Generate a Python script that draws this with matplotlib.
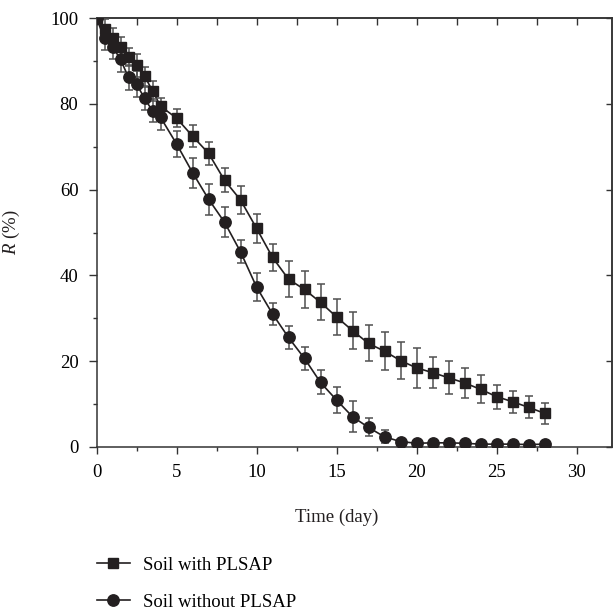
import numpy as np
import matplotlib
matplotlib.use("Agg")
import matplotlib.pyplot as plt
from matplotlib.lines import Line2D
from matplotlib.ticker import MultipleLocator

days = [0, 0.5, 1, 1.5, 2, 2.5, 3, 3.5, 4, 5, 6, 7, 8, 9, 10, 11, 12, 13, 14,
        15, 16, 17, 18, 19, 20, 21, 22, 23, 24, 25, 26, 27, 28]

r_with = [100, 97.4, 95.5, 93.4, 90.9, 89.0, 86.5, 83.1, 79.5, 76.7, 72.5, 68.5,
          62.2, 57.6, 51.0, 44.2, 39.1, 36.7, 33.7, 30.3, 27.1, 24.1, 22.3, 20.1,
          18.4, 17.3, 16.1, 14.9, 13.4, 11.7, 10.5, 9.2, 7.8]
err_with = [0, 2.5, 2.2, 2.3, 2.1, 2.6, 2.2, 2.3, 2.0, 2.1, 2.6, 2.7, 2.8, 3.2,
            3.4, 3.1, 4.2, 4.4, 4.2, 4.2, 4.3, 4.2, 4.5, 4.4, 4.7, 3.7, 3.9, 3.5,
            3.3, 2.8, 2.6, 2.6, 2.4]

r_without = [100, 95.3, 93.4, 90.4, 86.2, 84.7, 81.3, 78.4, 76.9, 70.7, 64.0, 57.8,
             52.4, 45.5, 37.3, 31.0, 25.5, 20.6, 15.0, 10.9, 7.0, 4.5, 2.3, 1.2,
             0.8, 0.9, 0.9, 0.8, 0.6, 0.6, 0.6, 0.5, 0.6]
err_without = [0, 2.6, 3.0, 2.9, 3.0, 3.0, 2.7, 2.7, 3.0, 3.1, 3.5, 3.6, 3.5, 2.7,
               3.2, 2.5, 2.6, 2.7, 2.8, 3.0, 3.6, 2.1, 1.5, 0.5, 0.3, 0.3, 0.3,
               0.3, 0.3, 0.3, 0.3, 0.3, 0.3]

labels = ["Soil with PLSAP", "Soil without PLSAP"]
xlabel = "Time (day)"
ylabel = r"$\mathit{R}$ (%)"

plt.rcParams['font.family'] = ['Liberation Serif', 'DejaVu Serif']
plt.rcParams['mathtext.fontset'] = 'custom'
plt.rcParams['mathtext.it'] = 'Liberation Serif:italic'
plt.rcParams['mathtext.rm'] = 'Liberation Serif'

W, H = 613, 614
fig = plt.figure(figsize=(W / 100, H / 100), dpi=100)
left, right, top, bottom = 96.5, 612, 18.3, 446.7
ax = fig.add_axes([left / W, 1 - bottom / H, (right - left) / W, (bottom - top) / H])

dark = '#231f20'
ecol = '#505050'
fs = 13.5

ax.errorbar(days, r_with, yerr=err_with, fmt='s', color=dark, ms=7.8,
            ecolor=ecol, elinewidth=1.1, capsize=2.6, capthick=1.1, zorder=3)
ax.plot(days, r_with, '-', color=dark, lw=1.2, zorder=2)
ax.errorbar(days, r_without, yerr=err_without, fmt='o', color=dark, ms=8.2,
            ecolor=ecol, elinewidth=1.1, capsize=2.6, capthick=1.1, zorder=3)
ax.plot(days, r_without, '-', color=dark, lw=1.2, zorder=2)

ax.set_xlim(0, (right - left) / 16.0)
ax.set_ylim(0, 100)
ax.xaxis.set_major_locator(MultipleLocator(5))
ax.xaxis.set_minor_locator(MultipleLocator(2.5))
ax.yaxis.set_major_locator(MultipleLocator(20))
ax.yaxis.set_minor_locator(MultipleLocator(10))

for s in ax.spines.values():
    s.set_linewidth(1.1)
    s.set_color('#333333')

ax.tick_params(axis='x', which='major', direction='out', length=5.2, width=1.0,
               color='#333333', labelsize=fs, pad=7)
ax.tick_params(axis='x', which='minor', direction='out', length=2.6, width=1.0,
               color='#333333')
ax.tick_params(axis='y', which='major', direction='out', length=6, width=1.0,
               color='#333333', labelsize=fs, pad=7)
ax.tick_params(axis='y', which='minor', direction='out', length=3, width=1.0,
               color='#333333')

secx = ax.secondary_xaxis('top')
secx.xaxis.set_major_locator(MultipleLocator(2.5))
secx.tick_params(direction='in', length=5, width=1.0, color='#333333',
                 labeltop=False)
secx.spines['top'].set_linewidth(1.1)
secx.spines['top'].set_color('#333333')

secy = ax.secondary_yaxis('right')
secy.yaxis.set_major_locator(MultipleLocator(20))
secy.tick_params(direction='in', length=4, width=1.0, color='#333333',
                 labelright=False)
secy.spines['right'].set_linewidth(1.1)
secy.spines['right'].set_color('#333333')

ax.set_xlabel(xlabel, fontsize=fs, color=dark)
ax.xaxis.set_label_coords(0.465, -0.144)
ax.set_ylabel(ylabel, fontsize=fs, color=dark)
ax.yaxis.set_label_coords(-0.1445, 0.5)

h1 = Line2D([], [], color=dark, lw=1.2, marker='s', ms=7.8)
h2 = Line2D([], [], color=dark, lw=1.2, marker='o', ms=8.2)
fig.legend([h1, h2], labels, loc='center left',
           bbox_to_anchor=(97 / W, 1 - 583.5 / H), frameon=False,
           fontsize=fs, handlelength=1.75, handletextpad=0.7,
           labelspacing=1.06, borderpad=0, borderaxespad=0)

fig.savefig('out.png', dpi=100)
